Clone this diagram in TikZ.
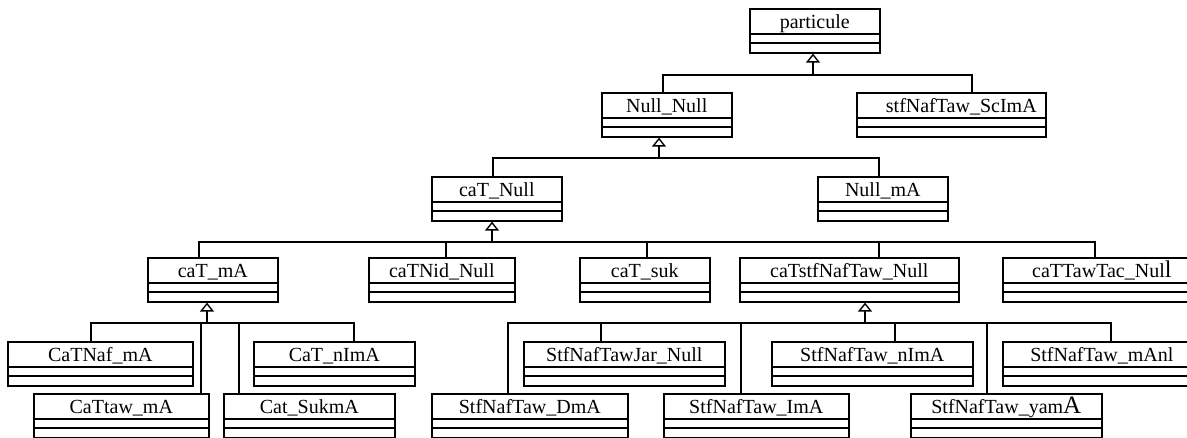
\documentclass[tikz,border=0pt]{standalone}
\usepackage{fontspec}
\setmainfont{Liberation Serif}
\usetikzlibrary{arrows.meta}

\tikzset{
  classbox/.style={draw, line width=1.6pt, inner sep=0pt, minimum height=44pt, anchor=north west},
  classname/.style={anchor=base, inner sep=0pt, font=\fontsize{20}{24}\selectfont},
  link/.style={line width=1.6pt},
  extends/.style={link, -{Triangle[open, length=9pt, width=14pt, line width=1.4pt]}},
}

% class box: name, left, top, right, x of the link, text
\newcommand{\umlclass}[6]{%
  \node[classbox, minimum width={(#4-#2)*1pt}] (#1) at (#2,#3) {};
  \draw[link] ([yshift=-26pt]#1.north west) -- ([yshift=-26pt]#1.north east)
              ([yshift=-35pt]#1.north west) -- ([yshift=-35pt]#1.north east);
  \node[classname] at ([yshift=-20pt]#1.north) {#6};
  \coordinate (#1 top) at (#5,#3);
}

\begin{document}
\begin{tikzpicture}[x=1pt,y=-1pt]
\useasboundingbox (0,0) rectangle (1187,437);

% classes
\umlclass{particule}{749}{8}{879}{814}{particule}
\umlclass{nullnull}{601}{92}{731}{663}{Null\_Null}
\umlclass{scima}{856}{92}{1045}{972}{\hspace*{20pt}stfNafTaw\_ScImA}
\umlclass{catnull}{431}{176}{561}{493}{caT\_Null}
\umlclass{nullma}{817}{176}{947}{879}{Null\_mA}
\umlclass{catma}{147}{257}{277}{199}{caT\_mA}
\umlclass{catnid}{368}{257}{514}{446}{caTNid\_Null}
\umlclass{catsuk}{579}{257}{709}{647}{caT\_suk}
\umlclass{catstf}{739}{257}{958}{879}{caTstfNafTaw\_Null}
\umlclass{cattac}{1002}{257}{1200}{1095}{caTTawTac\_Nul{\fontsize{24}{24}\selectfont l}}
\umlclass{catnaf}{7}{341}{192}{91}{CaTNaf\_mA}
\umlclass{catnima}{253}{341}{414}{354}{CaT\_nImA}
\umlclass{cattaw}{33}{393}{208}{201}{CaTtaw\_mA}
\umlclass{catsukma}{223}{393}{394}{239}{Cat\_SukmA}
\umlclass{jarnull}{523}{341}{724}{601}{StfNafTawJar\_Null}
\umlclass{nima}{771}{341}{972}{895}{StfNafTaw\_nImA}
\umlclass{manl}{1002}{341}{1200}{1111}{StfNafTaw\_mAnl}
\umlclass{dma}{431}{393}{627}{508}{StfNafTaw\_DmA}
\umlclass{ima}{663}{393}{848}{741}{StfNafTaw\_ImA}
\umlclass{yama}{910}{393}{1101}{987}{StfNafTaw\_yam{\fontsize{25}{25}\selectfont A}}

% inheritance
\coordinate (bus0) at (813,75);
\draw[extends] (bus0) -- (bus0 |- particule.south);
\draw[link] (nullnull top) |- (bus0) -| (scima top);

\coordinate (bus1) at (659,158);
\draw[extends] (bus1) -- (bus1 |- nullnull.south);
\draw[link] (catnull top) |- (bus1) -| (nullma top);

\coordinate (bus2) at (492,242);
\draw[extends] (bus2) -- (bus2 |- catnull.south);
\draw[link] (catma top) |- (bus2) -| (cattac top);
\draw[link] (catnid top) -- (catnid top |- bus2);
\draw[link] (catsuk top) -- (catsuk top |- bus2);
\draw[link] (catstf top) -- (catstf top |- bus2);

\coordinate (bus3) at (207,323);
\draw[extends] (bus3) -- (bus3 |- catma.south);
\draw[link] (catnaf top) |- (bus3) -| (catnima top);
\draw[link] (cattaw top) -- (cattaw top |- bus3);
\draw[link] (catsukma top) -- (catsukma top |- bus3);

\coordinate (bus4) at (865,323);
\draw[extends] (bus4) -- (bus4 |- catstf.south);
\draw[link] (dma top) |- (bus4) -| (manl top);
\draw[link] (jarnull top) -- (jarnull top |- bus4);
\draw[link] (ima top) -- (ima top |- bus4);
\draw[link] (nima top) -- (nima top |- bus4);
\draw[link] (yama top) -- (yama top |- bus4);
\end{tikzpicture}
\end{document}
